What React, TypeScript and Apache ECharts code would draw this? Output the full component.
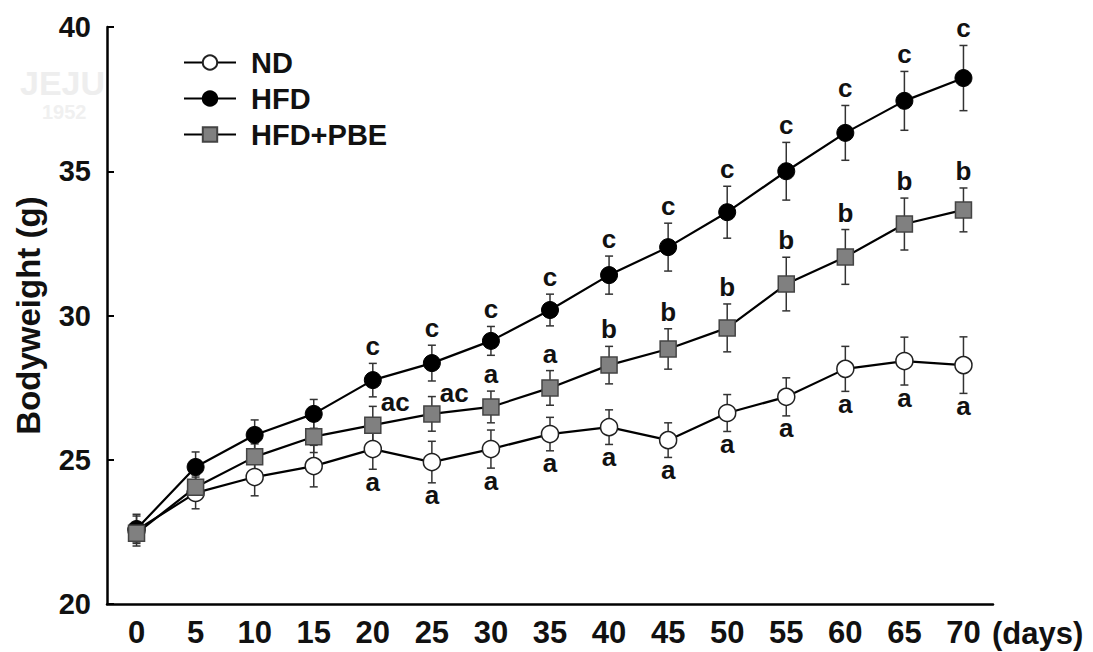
import React, { useEffect, useRef } from "react";
import * as echarts from "echarts";

const DAYS = ["0", "5", "10", "15", "20", "25", "30", "35", "40", "45", "50", "55", "60", "65", "70"];
const Y_TICKS = { min: 20, max: 40, interval: 5 };

const ND_MEAN = [22.56, 23.85, 24.4, 24.78, 25.37, 24.92, 25.37, 25.89, 26.13, 25.68, 26.62, 27.18, 28.15, 28.42, 28.28];
const ND_ERR = [0.55, 0.55, 0.65, 0.72, 0.7, 0.72, 0.66, 0.58, 0.6, 0.6, 0.64, 0.66, 0.78, 0.83, 0.98];
const ND_SIG = ["", "", "", "", "a", "a", "a", "a", "a", "a", "a", "a", "a", "a", "a"];

const HFD_MEAN = [22.6, 24.75, 25.86, 26.59, 27.76, 28.35, 29.12, 30.19, 31.4, 32.37, 33.58, 35.0, 36.33, 37.44, 38.23];
const HFD_ERR = [0.45, 0.52, 0.52, 0.5, 0.58, 0.62, 0.5, 0.55, 0.66, 0.83, 0.9, 1.0, 0.95, 1.02, 1.13];
const HFD_SIG = ["", "", "", "", "c", "c", "c", "c", "c", "c", "c", "c", "c", "c", "c"];

const PBE_MEAN = [22.45, 24.05, 25.1, 25.8, 26.2, 26.59, 26.83, 27.49, 28.28, 28.84, 29.57, 31.09, 32.03, 33.17, 33.66];
const PBE_ERR = [0.35, 0.42, 0.45, 0.55, 0.65, 0.6, 0.55, 0.6, 0.65, 0.7, 0.83, 0.93, 0.95, 0.9, 0.76];
const PBE_SIG = ["", "", "", "", "ac", "ac", "a", "a", "b", "b", "b", "b", "b", "b", "b"];

const FONT = "Arial, 'Liberation Sans', sans-serif";

function errRender(sig: string[], place: "above" | "below") {
  return (params: any, api: any) => {
    const i = params.dataIndex;
    const lo = api.coord([api.value(0), api.value(1)]);
    const hi = api.coord([api.value(0), api.value(2)]);
    const x = lo[0];
    const cap = 4;
    const st = { stroke: "#333", lineWidth: 1.5 };
    const children: any[] = [
      { type: "line", shape: { x1: x, y1: hi[1], x2: x, y2: lo[1] }, style: st },
      { type: "line", shape: { x1: x - cap, y1: hi[1], x2: x + cap, y2: hi[1] }, style: st },
      { type: "line", shape: { x1: x - cap, y1: lo[1], x2: x + cap, y2: lo[1] }, style: st },
    ];
    const t = sig[i];
    if (t) {
      let tx = x;
      let ty = hi[1] - 17;
      let align = "center";
      if (t.length > 1) {
        tx = x + 8;
        ty = hi[1] - 4;
        align = "left";
      } else if (place === "below") {
        ty = lo[1] + 12.5;
      }
      children.push({
        type: "text",
        style: {
          text: t,
          x: tx,
          y: ty,
          align,
          verticalAlign: "middle",
          font: `bold 26px ${FONT}`,
          fill: "#111",
        },
      });
    }
    return { type: "group", children };
  };
}

function errData(mean: number[], err: number[]) {
  return mean.map((m, i) => [i, m - err[i], m + err[i]]);
}

export default function App() {
  const ref = useRef<HTMLDivElement>(null);
  useEffect(() => {
    if (!ref.current) return;
    const chart = echarts.init(ref.current, undefined, { renderer: "svg" });
    const lineCommon = {
      type: "line",
      z: 3,
      symbolSize: 17,
      lineStyle: { color: "#000", width: 2.2 },
    };
    chart.setOption({
      animation: false,
      backgroundColor: "#fff",
      grid: { left: 107, top: 27, width: 886, height: 577 },
      legend: {
        orient: "vertical",
        left: 178,
        top: 43,
        itemWidth: 52,
        itemHeight: 18,
        itemGap: 7,
        selectedMode: false,
        textStyle: { fontSize: 29, fontWeight: "bold", fontFamily: FONT, color: "#111", padding: [0, 0, 0, 10] },
        data: ["ND", "HFD", "HFD+PBE"],
      },
      graphic: [
        { type: "text", left: 20, top: 66, z: -10, style: { text: "JEJU", font: `bold 34px ${FONT}`, fill: "#eeeeee" } },
        { type: "text", left: 42, top: 102, z: -10, style: { text: "1952", font: `bold 20px ${FONT}`, fill: "#f0f0f0" } },
        {
          type: "text",
          left: 992,
          top: 618,
          style: { text: "(days)", font: `bold 31px ${FONT}`, fill: "#111" },
        },
      ],
      xAxis: {
        type: "category",
        data: DAYS,
        boundaryGap: true,
        axisLine: { lineStyle: { color: "#000", width: 2.5 } },
        axisTick: { inside: true, length: 7, lineStyle: { color: "#000", width: 2 } },
        axisLabel: { color: "#111", fontSize: 31, fontWeight: "bold", fontFamily: FONT, margin: 13 },
        splitLine: { show: false },
      },
      yAxis: {
        type: "value",
        min: Y_TICKS.min,
        max: Y_TICKS.max,
        interval: Y_TICKS.interval,
        name: "Bodyweight (g)",
        nameLocation: "middle",
        nameGap: 62,
        nameTextStyle: { fontSize: 33, fontWeight: "bold", fontFamily: FONT, color: "#111" },
        axisLine: { show: true, lineStyle: { color: "#000", width: 2.5 } },
        axisTick: { show: true, inside: true, length: 7, lineStyle: { color: "#000", width: 2 } },
        axisLabel: { color: "#111", fontSize: 29, fontWeight: "bold", fontFamily: FONT, margin: 16 },
        splitLine: { show: false },
      },
      series: [
        {
          type: "custom",
          name: "ND err",
          z: 1,
          renderItem: errRender(ND_SIG, "below"),
          encode: { x: 0, y: [1, 2] },
          data: errData(ND_MEAN, ND_ERR),
        },
        {
          type: "custom",
          name: "HFD err",
          z: 1,
          renderItem: errRender(HFD_SIG, "above"),
          encode: { x: 0, y: [1, 2] },
          data: errData(HFD_MEAN, HFD_ERR),
        },
        {
          type: "custom",
          name: "PBE err",
          z: 1,
          renderItem: errRender(PBE_SIG, "above"),
          encode: { x: 0, y: [1, 2] },
          data: errData(PBE_MEAN, PBE_ERR),
        },
        {
          ...lineCommon,
          name: "ND",
          symbol: "circle",
          itemStyle: { color: "#fff", borderColor: "#222", borderWidth: 1.5 },
          data: ND_MEAN,
        },
        {
          ...lineCommon,
          name: "HFD",
          symbol: "circle",
          itemStyle: { color: "#000", borderColor: "#000", borderWidth: 1 },
          data: HFD_MEAN,
        },
        {
          ...lineCommon,
          name: "HFD+PBE",
          symbol: "rect",
          symbolSize: 16,
          itemStyle: { color: "#808080", borderColor: "#444", borderWidth: 1.5 },
          data: PBE_MEAN,
        },
      ],
    });
    return () => chart.dispose();
  }, []);
  return (
    <div
      ref={ref}
      style={{ position: "fixed", left: 0, top: 0, width: 1093, height: 652, background: "#fff" }}
    />
  );
}
